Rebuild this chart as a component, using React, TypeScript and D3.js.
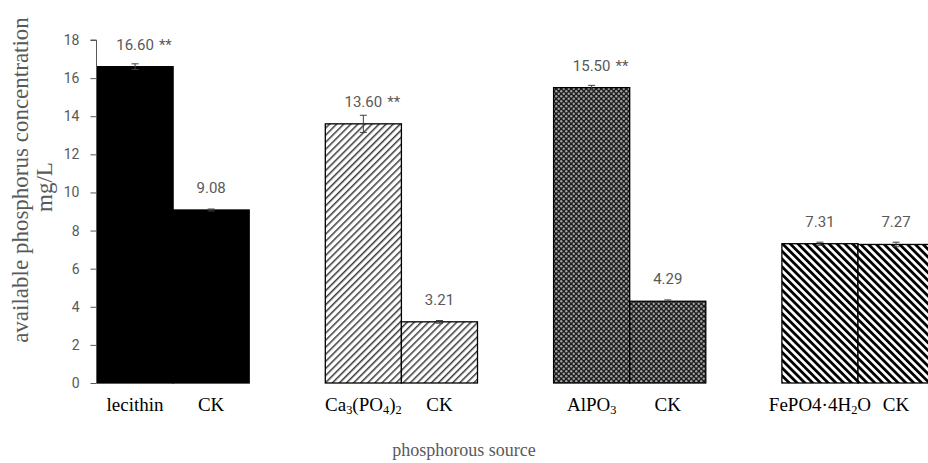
import { useEffect, useRef } from 'react';
import * as d3 from 'd3';

// phosphorous sources; "_x" marks a subscript character
const groups = ['lecithin', 'Ca_3(PO_4)_2', 'AlPO_3', 'FePO4·4H_2O'];
const ckLabel = 'CK';
const treatValues = [16.6, 13.6, 15.5, 7.31];
const ckValues = [9.08, 3.21, 4.29, 7.27];
const treatErrors = [0.15, 0.45, 0.12, 0.08];
const ckErrors = [0.05, 0.07, 0.07, 0.12];
const treatSig = ['**', '**', '**', ''];
const yTicks = [0, 2, 4, 6, 8, 10, 12, 14, 16, 18];
const fills = ['#000', 'url(#hatchLight)', 'url(#checker)', 'url(#hatchDark)'];

const W = 928;
const H = 463;

function addLabel(sel, label) {
  // split into normal text and subscripts, shifting the baseline back after each subscript
  const parts = label.split(/(_.)/).filter(p => p.length);
  let shifted = false;
  parts.forEach(p => {
    const isSub = p.startsWith('_');
    const ts = sel.append('tspan');
    if (isSub) {
      ts.attr('font-size', '0.65em').attr('dy', shifted ? 0 : 3).text(p[1]);
      shifted = true;
    } else {
      if (shifted) ts.attr('dy', -3);
      shifted = false;
      ts.text(p);
    }
  });
}

export default function App() {
  const svgRef = useRef();

  useEffect(() => {
    const svg = d3.select(svgRef.current);
    svg.selectAll('*').remove();

    const y = d3.scaleLinear().domain([0, 18]).range([383, 40]);
    const x = d3.scaleBand().domain(groups).range([97, 97 + 4 * 228.3]).padding(0);
    const sub = d3.scaleBand().domain(['treat', 'ck', 'gap']).range([0, x.bandwidth()]).padding(0);

    const defs = svg.append('defs');
    const light = defs.append('pattern').attr('id', 'hatchLight')
      .attr('patternUnits', 'userSpaceOnUse').attr('width', 5).attr('height', 5)
      .attr('patternTransform', 'rotate(45)');
    light.append('rect').attr('width', 5).attr('height', 5).attr('fill', '#fff');
    light.append('rect').attr('width', 1.5).attr('height', 5).attr('fill', '#3a3a3a');

    const dark = defs.append('pattern').attr('id', 'hatchDark')
      .attr('patternUnits', 'userSpaceOnUse').attr('width', 5.5).attr('height', 5.5)
      .attr('patternTransform', 'rotate(-45)');
    dark.append('rect').attr('width', 5.5).attr('height', 5.5).attr('fill', '#fff');
    dark.append('rect').attr('width', 2.8).attr('height', 5.5).attr('fill', '#000');

    const chk = defs.append('pattern').attr('id', 'checker')
      .attr('patternUnits', 'userSpaceOnUse').attr('width', 5).attr('height', 5);
    chk.append('rect').attr('width', 5).attr('height', 5).attr('fill', '#1e1e1e');
    chk.append('circle').attr('cx', 1.25).attr('cy', 1.25).attr('r', 1.2).attr('fill', '#a0a0a0');
    chk.append('circle').attr('cx', 3.75).attr('cy', 3.75).attr('r', 1.2).attr('fill', '#a0a0a0');

    const bars = groups.flatMap((g, i) => [
      { g, i, key: 'treat', v: treatValues[i], e: treatErrors[i], sig: treatSig[i] },
      { g, i, key: 'ck', v: ckValues[i], e: ckErrors[i], sig: '' },
    ]);

    // bars
    svg.append('g').selectAll('rect').data(bars).join('rect')
      .attr('x', d => x(d.g) + sub(d.key))
      .attr('y', d => y(d.v))
      .attr('width', sub.bandwidth())
      .attr('height', d => y(0) - y(d.v))
      .attr('fill', d => fills[d.i])
      .attr('stroke', '#000')
      .attr('stroke-width', 1.3);

    // error bars
    const eb = svg.append('g').attr('stroke', '#404040').attr('stroke-width', 1);
    bars.forEach(d => {
      const cx = x(d.g) + sub(d.key) + sub.bandwidth() / 2;
      eb.append('line').attr('x1', cx).attr('x2', cx).attr('y1', y(d.v - d.e)).attr('y2', y(d.v + d.e));
      [d.v - d.e, d.v + d.e].forEach(v => {
        eb.append('line').attr('x1', cx - 3.5).attr('x2', cx + 3.5).attr('y1', y(v)).attr('y2', y(v));
      });
    });

    // value labels
    const vl = svg.append('g').attr('font-family', 'Roboto, sans-serif').attr('font-size', 15)
      .attr('fill', '#595959');
    bars.forEach(d => {
      const cx = x(d.g) + sub(d.key) + sub.bandwidth() / 2;
      const t = vl.append('text').attr('x', cx).attr('y', y(d.v) - 17).attr('text-anchor', 'middle')
        .text(d.v.toFixed(2));
      if (d.sig) {
        const w = t.node().getComputedTextLength();
        vl.append('text').attr('x', cx + w / 2 + 5).attr('y', y(d.v) - 17).text(d.sig);
      }
    });

    // y axis
    const ax = svg.append('g').attr('transform', 'translate(96.5,0)')
      .call(d3.axisLeft(y).tickValues(yTicks).tickSize(6).tickPadding(11).tickFormat(d3.format('d')));
    ax.select('.domain').attr('stroke', '#595959').attr('d', `M-6,${y(18)}H0V${y(0)}`);
    ax.selectAll('.tick line').attr('stroke', '#595959');
    ax.selectAll('.tick text').attr('fill', '#595959').attr('font-family', 'Roboto, sans-serif')
      .attr('font-size', 14);

    // category labels
    const cl = svg.append('g').attr('font-family', '"Liberation Serif", serif').attr('font-size', 19)
      .attr('fill', '#000').attr('text-anchor', 'middle');
    groups.forEach(g => {
      const t = cl.append('text').attr('x', x(g) + sub('treat') + sub.bandwidth() / 2).attr('y', 411);
      addLabel(t, g);
      cl.append('text').attr('x', x(g) + sub('ck') + sub.bandwidth() / 2).attr('y', 411).text(ckLabel);
    });

    // axis titles
    const titles = svg.append('g').attr('font-family', '"Liberation Serif", serif').attr('fill', '#595959')
      .attr('text-anchor', 'middle');
    titles.append('text').attr('transform', 'translate(28,180) rotate(-90)').attr('font-size', 23)
      .text('available phosphorus concentration');
    titles.append('text').attr('transform', 'translate(52,187) rotate(-90)').attr('font-size', 23)
      .text('mg/L');
    titles.append('text').attr('x', 464).attr('y', 456).attr('font-size', 18)
      .text('phosphorous source');
  }, []);

  return (
    <svg ref={svgRef} width={W} height={H}
      style={{ position: 'absolute', left: 0, top: 0, background: '#fff' }} />
  );
}
